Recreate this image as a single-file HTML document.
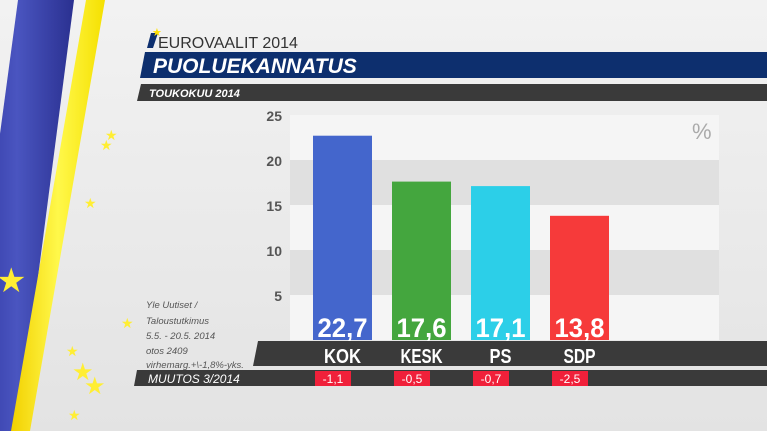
<!DOCTYPE html>
<html><head><meta charset="utf-8"><style>
body{margin:0;width:767px;height:431px;overflow:hidden;background:#e6e6e6;font-family:"Liberation Sans","DejaVu Sans",sans-serif}
svg{display:block}
</style></head><body>
<svg width="767" height="431" viewBox="0 0 767 431">
<defs>
<linearGradient id="bg" x1="0" y1="0" x2="0" y2="1"><stop offset="0" stop-color="#f2f2f2"/><stop offset="1" stop-color="#e3e3e3"/></linearGradient>
<linearGradient id="blu" x1="0" y1="0" x2="1" y2="0"><stop offset="0" stop-color="#2a2f9a"/><stop offset="0.5" stop-color="#4a55c0"/><stop offset="1" stop-color="#2a3090"/></linearGradient>
<linearGradient id="yel" x1="0" y1="0" x2="1" y2="0"><stop offset="0" stop-color="#f2d000"/><stop offset="0.5" stop-color="#fff84a"/><stop offset="1" stop-color="#f5e000"/></linearGradient>
</defs>
<rect width="767" height="431" fill="url(#bg)"/>
<polygon points="18,0 74,0 18,431 -40,431" fill="url(#blu)"/>
<polygon points="86,0 105,0 30,431 11,431" fill="url(#yel)"/>
<g fill="#ffee33" font-size="14">
<text x="105" y="140">★</text><text x="100" y="150">★</text><text x="84" y="208">★</text>
<text x="-4" y="292" font-size="34">★</text><text x="121" y="328">★</text>
<text x="66" y="356">★</text><text x="72" y="380" font-size="24">★</text><text x="84" y="394" font-size="24">★</text><text x="68" y="420">★</text>
</g>
<polygon points="151,33 158,33 153,48 147,48" fill="#0d2f6e"/>
<text x="152" y="36" font-size="11" fill="#ffe000">★</text>
<text x="158" y="48" font-size="16" fill="#333">EUROVAALIT 2014</text>
<polygon points="145,52 767,52 767,78 140,78" fill="#0d2f6e"/>
<text x="153" y="73" font-size="21" font-weight="bold" font-style="italic" fill="#fff">PUOLUEKANNATUS</text>
<polygon points="141,84 767,84 767,101 137,101" fill="#3a3a3a"/>
<text x="149" y="97" font-size="11" font-weight="bold" font-style="italic" fill="#fff">TOUKOKUU 2014</text>
<g id="plot"></g>
<text x="692" y="139" font-size="22" fill="#aaa">%</text>
<polygon points="258,341 767,341 767,366 253,366" fill="#3a3a3a"/>
<polygon points="137,370 767,370 767,386 134,386" fill="#3a3a3a"/>
<text x="148" y="383" font-size="12" font-style="italic" fill="#fff">MUUTOS 3/2014</text>
<g font-size="9.5" font-style="italic" fill="#555">
<text x="146" y="308">Yle Uutiset /</text><text x="146" y="324">Taloustutkimus</text><text x="146" y="339">5.5. - 20.5. 2014</text><text x="146" y="354">otos 2409</text><text x="146" y="368">virhemarg.+\-1,8%-yks.</text>
</g>
<g id="labels"></g>
</svg>
<script>
const parties=["KOK","KESK","PS","SDP"];
const values=[22.7,17.6,17.1,13.8];
const changes=["-1,1","-0,5","-0,7","-2,5"];
const ticks=[5,10,15,20,25];
const colors=["#4466cc","#44a63e","#2ccfe8","#f63a3a"];
const NS="http://www.w3.org/2000/svg";
const y=v=>340-v*9;
const x=i=>313+i*79;
const plot=document.getElementById('plot'),lab=document.getElementById('labels');
function mk(p,t,a){const e=document.createElementNS(NS,t);for(const k in a)e.setAttribute(k,a[k]);p.appendChild(e);return e;}
for(let k=0;k<5;k++){
 const r=mk(plot,'rect',{x:290,y:y(25-k*5),width:429,height:45,fill:k%2?'#e0e0e0':'#f5f5f5'});
 
 
}
ticks.forEach(t=>{
 const e=mk(plot,'text',{x:282,y:y(t)+6,'font-size':14,'font-weight':'bold',fill:'#555','text-anchor':'end'});
 e.textContent=t;
 
 
});
const pw=[37,42,22,32];
values.forEach((v,i)=>{
 const b=mk(plot,'rect',{x:x(i),y:y(v),width:59,height:340-y(v),fill:colors[i]});
 
 
 const t=mk(plot,'text',{x:x(i)+29.5,y:337,'font-size':27,'font-weight':'bold',fill:'#fff','text-anchor':'middle',textLength:50,lengthAdjust:'spacingAndGlyphs'});
 t.textContent=v.toFixed(1).replace('.',',');
 
 
 const p=mk(lab,'text',{x:x(i)+29.5,y:363,'font-size':20,'font-weight':'bold',fill:'#fff','text-anchor':'middle',textLength:pw[i],lengthAdjust:'spacingAndGlyphs'});
 p.textContent=parties[i];
 
 
 const c=mk(lab,'rect',{x:x(i)+2,y:371,width:36,height:15,fill:'#f0203a'});
 
 
 const ct=mk(lab,'text',{x:x(i)+20,y:383,'font-size':12,fill:'#fff','text-anchor':'middle'});
 ct.textContent=changes[i];
 
 
});
</script>
</body></html>
